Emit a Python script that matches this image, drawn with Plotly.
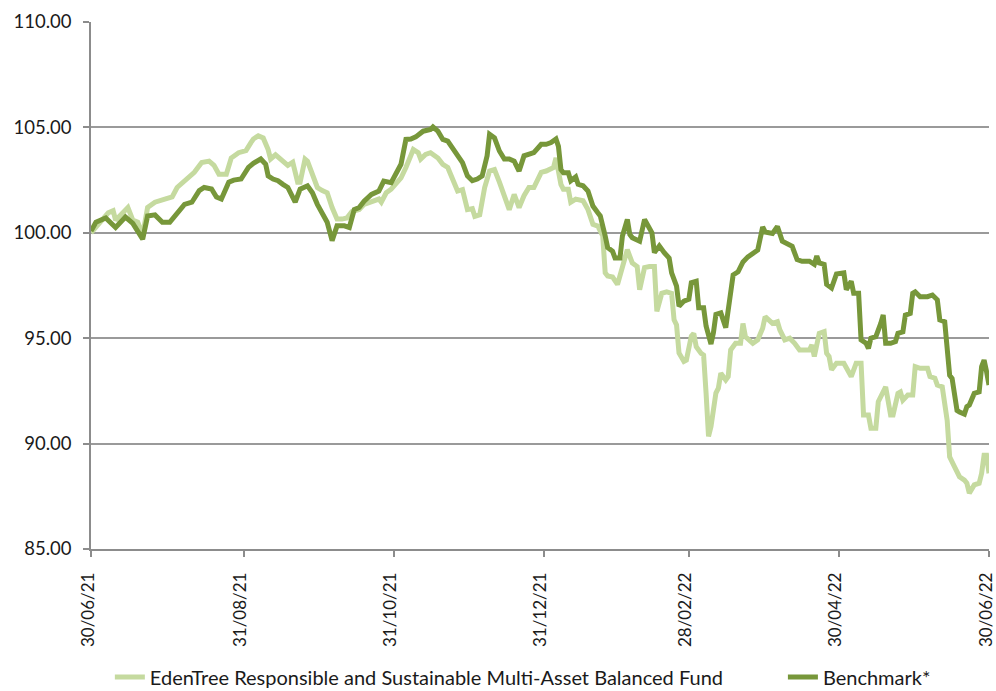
import datetime as dt
import plotly.graph_objects as go

START = dt.date(2021, 6, 30)

# days since 30/06/21 and values
fund_days = [0, 4, 7, 9, 10, 15, 17, 19, 21, 23, 26, 30, 33, 35, 38, 42, 45, 48, 50, 52, 55, 57, 60, 63, 65, 66,
             68, 70, 72, 73, 75, 78, 80, 82, 84, 85, 87, 88, 90, 92, 94, 96, 98, 100, 102, 104, 106, 109, 111,
             114, 117, 118, 120, 122, 124, 126, 128, 131, 133, 134, 136, 138, 141, 143, 145, 147, 149, 151, 153,
             155, 156, 158, 160, 162, 164, 166, 168, 170, 172, 174, 176, 178, 180, 183, 185, 188, 189, 191, 192,
             194, 195, 197, 200, 202, 204, 206, 208, 209, 210, 212, 214, 216, 218, 220, 222, 223, 225, 227, 229,
             230, 232, 234, 236, 237, 238, 239, 241, 242, 244, 245, 246, 248, 249, 250, 251, 252, 254, 255, 256,
             258, 259, 260, 262, 264, 265, 266, 269, 271, 273, 274, 276, 277, 279, 280, 282, 284, 286, 288, 290,
             292, 293, 294, 296, 298, 299, 300, 301, 303, 306, 308, 309, 311, 313, 314, 316, 317, 319, 320, 322,
             323, 325, 326, 328, 329, 330, 332, 334, 335, 337, 340, 341, 343, 344, 346, 348, 349, 351, 353, 355,
             356, 357, 359, 361, 362, 363, 364, 365]
fund_values = [100.0, 100.55, 100.95, 101.05, 100.6, 101.2, 100.6, 100.5, 99.9, 101.2, 101.45, 101.6, 101.7,
               102.15, 102.47, 102.87, 103.33, 103.4, 103.2, 102.78, 102.78, 103.55, 103.8, 103.9, 104.28, 104.45,
               104.6, 104.5, 103.95, 103.5, 103.7, 103.35, 103.2, 103.35, 102.4, 102.4, 103.5, 103.4, 102.8,
               102.15, 102.0, 101.9, 101.2, 100.65, 100.65, 100.7, 101.0, 101.1, 101.35, 101.5, 101.6, 101.45,
               101.9, 102.07, 102.3, 102.6, 103.1, 103.95, 103.8, 103.5, 103.72, 103.8, 103.55, 103.25, 103.1,
               102.47, 101.98, 102.05, 101.1, 101.15, 100.78, 100.85, 102.15, 102.93, 103.0, 102.4, 101.76,
               101.1, 101.82, 101.2, 101.76, 102.15, 102.15, 102.87, 102.93, 103.1, 103.55, 102.3, 102.07,
               102.07, 101.45, 101.6, 101.52, 101.1, 100.4, 100.32, 99.85, 98.1, 97.95, 97.9, 97.55, 98.35,
               99.2, 98.57, 98.4, 97.3, 98.35, 98.4, 98.4, 96.27, 97.13, 97.2, 97.13, 95.87, 95.63, 94.3, 93.9,
               93.96, 95.1, 95.23, 94.6, 94.28, 94.2, 92.4, 90.34, 90.81, 92.4, 92.63, 93.34, 93.02, 93.18,
               94.44, 94.76, 94.76, 95.7, 95.07, 94.76, 94.92, 95.47, 96.02, 95.78, 95.7, 95.78, 95.39, 94.92,
               95.0, 94.76, 94.44, 94.44, 94.44, 94.68, 94.13, 95.23, 95.31, 94.28, 94.13, 93.5, 93.81, 93.81,
               93.34, 93.18, 93.81, 93.81, 91.36, 91.36, 90.73, 90.73, 91.99, 92.38, 92.69, 91.36, 91.36, 92.38,
               92.45, 92.06, 92.3, 92.3, 93.65, 93.57, 93.57, 93.18, 93.1, 92.78, 92.69, 91.1, 89.37, 88.9,
               88.43, 88.27, 88.12, 87.65, 88.04, 88.12, 88.59, 89.45, 89.45, 88.59]

bench_days = [0, 2, 6, 10, 14, 17, 21, 23, 26, 29, 32, 35, 38, 41, 44, 46, 49, 51, 53, 56, 58, 61, 64, 66, 69,
              71, 72, 74, 76, 78, 80, 83, 85, 88, 90, 92, 94, 96, 98, 100, 103, 105, 107, 109, 111, 114, 117,
              119, 122, 124, 126, 128, 130, 132, 135, 138, 139, 141, 143, 145, 147, 149, 151, 153, 155, 157,
              159, 161, 162, 164, 166, 168, 170, 172, 174, 176, 178, 180, 183, 185, 187, 189, 190, 191, 192,
              194, 195, 197, 198, 200, 202, 204, 206, 207, 209, 210, 212, 213, 215, 216, 218, 219, 220, 223,
              225, 227, 228, 229, 231, 233, 235, 236, 238, 239, 241, 243, 244, 246, 247, 249, 250, 252, 253,
              254, 256, 258, 260, 261, 263, 265, 267, 269, 271, 273, 274, 277, 279, 281, 283, 285, 287, 289,
              292, 294, 295, 296, 298, 299, 301, 303, 306, 307, 309, 310, 312, 313, 315, 316, 317, 319, 321,
              322, 323, 325, 327, 328, 330, 331, 333, 334, 335, 337, 340, 342, 344, 345, 347, 349, 350, 352,
              353, 355, 356, 357, 359, 361, 362, 363, 364, 365]
bench_values = [100.08, 100.5, 100.7, 100.25, 100.75, 100.45, 99.7, 100.8, 100.85, 100.5, 100.5, 100.95,
                101.35, 101.45, 102.0, 102.15, 102.08, 101.7, 101.6, 102.4, 102.5, 102.55, 103.1, 103.3, 103.5,
                103.25, 102.7, 102.55, 102.47, 102.3, 102.15, 101.45, 102.07, 102.23, 101.9, 101.35, 100.97,
                100.5, 99.63, 100.33, 100.33, 100.25, 101.1, 101.2, 101.5, 101.82, 101.98, 102.45, 102.38,
                102.85, 103.25, 104.43, 104.45, 104.55, 104.82, 104.9, 105.02, 104.82, 104.43, 104.35, 104.03,
                103.65, 103.33, 102.7, 102.47, 102.55, 102.7, 103.65, 104.67, 104.5, 103.88, 103.5, 103.5,
                103.4, 102.93, 103.65, 103.7, 103.8, 104.2, 104.2, 104.28, 104.45, 104.1, 103.0, 102.85,
                102.85, 102.47, 102.65, 102.3, 102.23, 101.98, 101.27, 100.95, 100.8, 99.85, 99.3, 99.12,
                98.8, 98.8, 99.85, 100.63, 99.92, 99.77, 99.6, 100.63, 100.15, 100.0, 99.06, 99.38, 99.06,
                98.8, 98.1, 97.47, 96.52, 96.76, 96.85, 97.63, 97.7, 96.45, 96.45, 95.58, 94.72, 95.27, 96.13,
                96.2, 95.5, 97.13, 98.0, 98.15, 98.62, 98.86, 99.02, 99.18, 100.28, 100.04, 99.97, 100.3, 99.6,
                99.5, 99.36, 98.73, 98.65, 98.65, 98.5, 98.9, 98.57, 98.5, 97.55, 97.38, 98.05, 98.1, 97.3,
                97.7, 97.13, 97.13, 94.92, 94.76, 94.52, 95.0, 95.07, 95.7, 96.1, 94.76, 94.76, 94.84, 95.23,
                95.3, 96.1, 96.18, 97.13, 97.2, 96.97, 96.97, 97.05, 96.82, 95.87, 95.78, 93.24, 93.09, 91.57,
                91.5, 91.4, 91.75, 91.83, 92.38, 92.45, 93.65, 93.96, 93.42, 92.78]

tick_dates = ["2021-06-30", "2021-08-31", "2021-10-31", "2021-12-31", "2022-02-28", "2022-04-30", "2022-06-30"]
tick_labels = ["30/06/21", "31/08/21", "31/10/21", "31/12/21", "28/02/22", "30/04/22", "30/06/22"]
y_ticks = [85, 90, 95, 100, 105, 110]

fund_name = "EdenTree Responsible and Sustainable Multi-Asset Balanced Fund"
bench_name = "Benchmark*"

fund_x = [START + dt.timedelta(days=d) for d in fund_days]
bench_x = [START + dt.timedelta(days=d) for d in bench_days]

FONT = "Lato, 'Noto Sans', sans-serif"

fig = go.Figure()
fig.add_trace(go.Scatter(x=fund_x, y=fund_values, mode="lines", name=fund_name,
                         line=dict(color="#c5da9f", width=5), legend="legend"))
fig.add_trace(go.Scatter(x=bench_x, y=bench_values, mode="lines", name=bench_name,
                         line=dict(color="#77973a", width=5), legend="legend2"))

legend_common = dict(orientation="h", xanchor="left", y=-0.243, yanchor="middle",
                     font=dict(size=20, color="#1a1a1a"), bgcolor="rgba(0,0,0,0)")

fig.update_layout(
    width=996, height=691,
    margin=dict(l=91, r=7, t=22, b=142, autoexpand=False),
    paper_bgcolor="white", plot_bgcolor="white",
    font=dict(family=FONT, size=18, color="#1a1a1a"),
    showlegend=True,
    legend=dict(x=0.021, **legend_common),
    legend2=dict(x=0.7705, **legend_common),
)
fig.update_xaxes(
    type="date", range=["2021-06-30", "2022-06-30"], automargin=False,
    tickmode="array", tickvals=tick_dates, ticktext=tick_labels, tickangle=-90,
    tickfont=dict(size=17), ticklabelstandoff=9, ticklabelshift=-3, ticklabeloverflow="allow",
    showgrid=False, showline=True, linecolor="#8c8c8c", linewidth=1.5,
    ticks="outside", ticklen=6, tickcolor="#8c8c8c", tickwidth=1.5, zeroline=False,
)
fig.update_yaxes(
    range=[85, 110], tickmode="array", tickvals=y_ticks, automargin=False,
    ticktext=[f"{v:.2f}" for v in y_ticks], tickfont=dict(size=18.5), ticklabelstandoff=8,
    ticklabeloverflow="allow",
    showgrid=True, gridcolor="#9a9a9a", gridwidth=1.5,
    showline=True, linecolor="#8c8c8c", linewidth=1.5,
    ticks="outside", ticklen=6, tickcolor="#8c8c8c", tickwidth=1.5, zeroline=False,
)

fig.write_html("out.html", config={"displayModeBar": False},
               post_script="document.body.style.margin='0px';")
